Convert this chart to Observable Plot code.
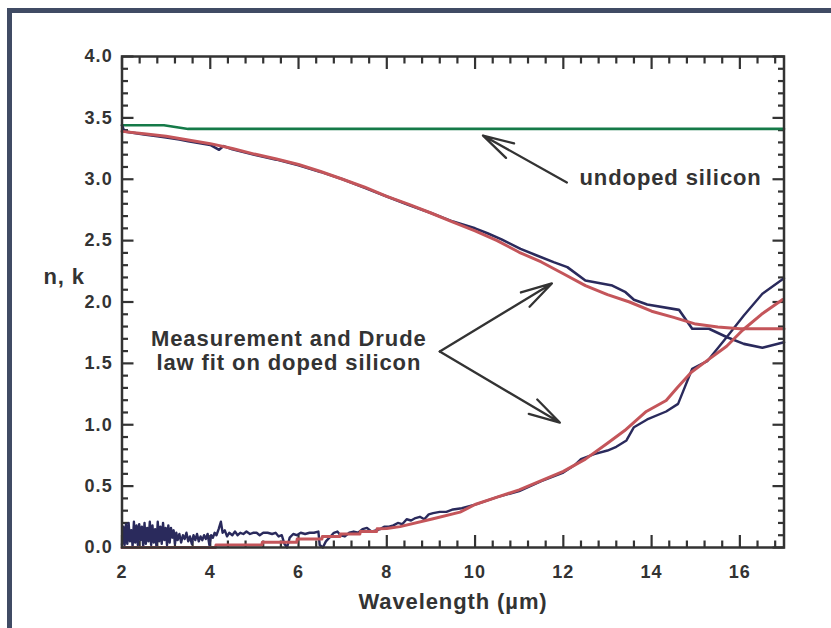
<!DOCTYPE html>
<html><head><meta charset="utf-8">
<script src="https://cdn.jsdelivr.net/npm/d3@7"></script>
<script src="https://cdn.jsdelivr.net/npm/@observablehq/plot@0.6"></script>
<style>
html,body{margin:0;padding:0;background:#fff;}
#wrap{position:relative;width:831px;height:628px;overflow:hidden;}
#border{position:absolute;left:7px;top:8px;right:-10px;bottom:-10px;border-top:5px solid #404b64;border-left:5px solid #404b64;pointer-events:none;}
#chart svg{display:block;}
g[aria-label="x-axis tick label"] text, g[aria-label="y-axis tick label"] text{letter-spacing:1.2px;}
g[aria-label="text"] text{letter-spacing:0.9px;}
</style></head><body>
<div id="wrap"><div id="chart"></div><div id="border"></div></div>
<script>
// ---- data ----
const undopedWl = [2.0, 2.95, 3.5, 17.0];
const undopedN  = [3.44, 3.44, 3.41, 3.41];

const nFitWl  = [2.0, 2.5, 3.0, 3.5, 4.0, 4.5, 5.0, 5.5, 6.0, 6.5, 7.0, 7.5, 8.0, 8.5, 9.0, 9.5, 10.0, 10.5, 11.0, 11.5, 12.0, 12.5, 13.0, 13.5, 14.0, 14.5, 15.0, 15.5, 16.0, 16.5, 17.0];
const nFitVal = [3.39, 3.37, 3.35, 3.32, 3.29, 3.25, 3.205, 3.165, 3.12, 3.063, 3.0, 2.935, 2.86, 2.795, 2.725, 2.65, 2.58, 2.5, 2.405, 2.326, 2.23, 2.134, 2.06, 2.0, 1.925, 1.875, 1.82, 1.797, 1.783, 1.782, 1.782];

const nMeasWl  = [2.0, 2.05, 2.5, 2.8, 3.0, 3.3, 3.5, 4.0, 4.2, 4.3, 4.5, 5.0, 5.5, 6.0, 6.5, 7.0, 7.5, 8.0, 8.5, 9.0, 9.5, 10.0, 10.28, 10.6, 11.03, 11.4, 11.78, 12.09, 12.5, 13.11, 13.41, 13.6, 13.9, 14.62, 14.92, 15.3, 15.71, 16.09, 16.51, 17.0];
const nMeasVal = [3.44, 3.39, 3.365, 3.35, 3.34, 3.325, 3.31, 3.28, 3.24, 3.27, 3.245, 3.2, 3.16, 3.115, 3.06, 3.0, 2.93, 2.86, 2.79, 2.725, 2.655, 2.6, 2.56, 2.51, 2.433, 2.379, 2.325, 2.284, 2.175, 2.134, 2.08, 2.018, 1.98, 1.936, 1.782, 1.782, 1.713, 1.659, 1.627, 1.672];

const kFitWl  = [2.0, 4.12, 4.13, 5.17, 5.18, 5.96, 5.97, 6.53, 6.54, 6.94, 6.95, 7.39, 7.4, 7.77, 7.78, 8.0, 8.3, 9.05, 9.66, 10.0, 10.5, 11.0, 11.5, 12.0, 12.5, 13.0, 13.39, 13.88, 14.33, 14.59, 14.9, 15.24, 15.7, 16.06, 16.49, 16.97];
const kFitVal = [0, 0, 0.02, 0.02, 0.043, 0.043, 0.07, 0.07, 0.09, 0.09, 0.11, 0.11, 0.13, 0.13, 0.152, 0.155, 0.17, 0.234, 0.288, 0.35, 0.41, 0.47, 0.545, 0.62, 0.72, 0.85, 0.953, 1.108, 1.198, 1.306, 1.428, 1.518, 1.64, 1.77, 1.9, 2.02];

const kMeasWl  = [2.00, 2.03, 2.06, 2.09, 2.12, 2.15, 2.18, 2.21, 2.24, 2.27, 2.30, 2.33, 2.36, 2.39, 2.42, 2.45, 2.48, 2.51, 2.54, 2.57, 2.60, 2.63, 2.66, 2.69, 2.72, 2.75, 2.78, 2.81, 2.84, 2.87, 2.90, 2.93, 2.96, 2.99, 3.02, 3.05, 3.08, 3.11, 3.14, 3.17, 3.20, 3.23, 3.26, 3.30, 3.34, 3.38, 3.42, 3.46, 3.50, 3.54, 3.58, 3.62, 3.66, 3.70, 3.74, 3.78, 3.82, 3.86, 3.90, 3.94, 3.98, 4.02, 4.06, 4.10, 4.14, 4.19, 4.24, 4.28, 4.33, 4.38, 4.43, 4.5, 4.56, 4.62, 4.68, 4.75, 4.82, 4.9, 4.97, 5.05, 5.12, 5.2, 5.3, 5.4, 5.48, 5.55, 5.62, 5.68, 5.74, 5.8, 5.88, 5.96, 6.05, 6.15, 6.25, 6.35, 6.45, 6.48, 6.55, 6.62, 6.7, 6.8, 6.88, 6.95, 7.05, 7.15, 7.25, 7.35, 7.45, 7.55, 7.65, 7.75, 7.85, 7.95, 8.05, 8.15, 8.25, 8.35, 8.45, 8.55, 8.65, 8.75, 8.85, 8.95, 9.05, 9.2, 9.35, 9.5, 9.7, 10.0, 10.5, 11.0, 11.5, 12.0, 12.25, 12.4, 12.7, 13.0, 13.2, 13.43, 13.6, 13.9, 14.33, 14.6, 14.92, 15.26, 15.7, 16.09, 16.51, 17.0];
const kMeasVal = [0.02, 0.17, 0.02, 0.19, 0.03, 0.2, 0.05, 0.14, 0.01, 0.21, 0.04, 0.18, 0.02, 0.19, 0.06, 0.17, 0.01, 0.2, 0.03, 0.16, 0.05, 0.21, 0.02, 0.18, 0.04, 0.15, 0.01, 0.21, 0.05, 0.17, 0.03, 0.2, 0.06, 0.16, 0.02, 0.18, 0.04, 0.16, 0.08, 0.14, 0.03, 0.12, 0.06, 0.11, 0.04, 0.1, 0.07, 0.12, 0.05, 0.09, 0.03, 0.1, 0.06, 0.11, 0.05, 0.09, 0.06, 0.1, 0.07, 0.11, 0.02, 0.1, 0.08, 0.12, 0.1, 0.15, 0.21, 0.12, 0.14, 0.09, 0.12, 0.1, 0.13, 0.1, 0.12, 0.11, 0.13, 0.11, 0.12, 0.12, 0.1, 0.12, 0.12, 0.11, 0.12, 0.09, 0.1, 0.03, 0.0, 0.08, 0.11, 0.1, 0.12, 0.11, 0.12, 0.12, 0.13, 0.02, 0.0, 0.05, 0.08, 0.12, 0.13, 0.1, 0.09, 0.12, 0.13, 0.12, 0.15, 0.16, 0.13, 0.14, 0.15, 0.17, 0.17, 0.18, 0.2, 0.19, 0.23, 0.22, 0.24, 0.25, 0.23, 0.27, 0.28, 0.29, 0.29, 0.31, 0.32, 0.35, 0.41, 0.46, 0.54, 0.61, 0.67, 0.72, 0.76, 0.79, 0.82, 0.872, 0.98, 1.043, 1.108, 1.17, 1.456, 1.518, 1.713, 1.89, 2.067, 2.194];

const xMajor = [2, 4, 6, 8, 10, 12, 14, 16];
const yMajor = [0, 0.5, 1.0, 1.5, 2.0, 2.5, 3.0, 3.5, 4.0];
const xMinor = d3.range(2, 17.001, 0.4).map(v => +v.toFixed(1)).filter(v => Math.abs(v / 2 - Math.round(v / 2)) > 1e-6);
const yMinor = d3.range(0, 4.001, 0.1).map(v => +v.toFixed(1)).filter(v => Math.abs(v * 2 - Math.round(v * 2)) > 1e-6);

const toRows = (wl, val) => wl.map((w, i) => ({wl: w, v: val[i]}));

const ink = "#333";
const F = "'Liberation Sans', Arial, Helvetica, sans-serif";

const tickStyle = {tickFormat: () => "", label: null, stroke: ink, strokeWidth: 2.2};

const chart = Plot.plot({
  width: 831, height: 628,
  marginLeft: 121.5, marginRight: 47.5, marginTop: 56, marginBottom: 81,
  x: {domain: [2, 17], label: null},
  y: {domain: [0, 4], label: null},
  style: {fontFamily: F, fontWeight: "bold", background: "transparent", color: ink},
  marks: [
    // minor + major ticks, inward on all four sides
    Plot.axisX(xMinor, {anchor: "bottom", tickSize: -6.5, ...tickStyle}),
    Plot.axisX(xMajor, {anchor: "bottom", tickSize: -12, ...tickStyle}),
    Plot.axisX(xMinor, {anchor: "top", tickSize: -6.5, ...tickStyle}),
    Plot.axisX(xMajor, {anchor: "top", tickSize: -12, ...tickStyle}),
    Plot.axisY(yMinor, {anchor: "left", tickSize: -6.5, ...tickStyle}),
    Plot.axisY(yMajor, {anchor: "left", tickSize: -12, ...tickStyle}),
    Plot.axisY(yMinor, {anchor: "right", tickSize: -6.5, ...tickStyle}),
    Plot.axisY(yMajor, {anchor: "right", tickSize: -12, ...tickStyle}),
    // tick labels
    Plot.axisX(xMajor, {anchor: "bottom", tickSize: 0, tickPadding: 18, label: null, fontSize: 18, fill: ink, tickFormat: d3.format("d")}),
    Plot.axisY(yMajor, {anchor: "left", tickSize: 0, tickPadding: 9, label: null, fontSize: 18, fill: ink, tickFormat: d3.format(".1f")}),
    // data
    Plot.line(toRows(undopedWl, undopedN), {x: "wl", y: "v", stroke: "#157a48", strokeWidth: 2.6}),
    Plot.line(toRows(nMeasWl, nMeasVal), {x: "wl", y: "v", stroke: "#2a2a5c", strokeWidth: 2.6}),
    Plot.line(toRows(kMeasWl, kMeasVal), {x: "wl", y: "v", stroke: "#2a2a5c", strokeWidth: 2.4}),
    Plot.line(toRows(nFitWl, nFitVal), {x: "wl", y: "v", stroke: "#c4555a", strokeWidth: 3}),
    Plot.line(toRows(kFitWl, kFitVal), {x: "wl", y: "v", stroke: "#c4555a", strokeWidth: 3}),
    Plot.frame({stroke: ink, strokeWidth: 2.5}),
    // annotations
    Plot.arrow([{x1: 12.08, y1: 2.974, x2: 10.18, y2: 3.356}], {x1: "x1", y1: "y1", x2: "x2", y2: "y2", stroke: ink, strokeWidth: 2.3, headAngle: 30, headLength: 21}),
    Plot.arrow([{x1: 9.2, y1: 1.597, x2: 11.74, y2: 2.151}, {x1: 9.2, y1: 1.597, x2: 11.92, y2: 1.018}], {x1: "x1", y1: "y1", x2: "x2", y2: "y2", stroke: ink, strokeWidth: 2.3, headAngle: 30, headLength: 21}),
    Plot.text(["undoped silicon"], {x: 12.367, y: 2.957, text: d => d, textAnchor: "start", lineAnchor: "bottom", fontSize: 22, fill: ink}),
    Plot.text(["Measurement and Drude\nlaw fit on doped silicon"], {x: 5.78, y: 1.442, text: d => d, textAnchor: "middle", lineAnchor: "bottom", lineHeight: 1.1, fontSize: 22, fill: ink}),
    Plot.text(["Wavelength (µm)"], {frameAnchor: "bottom", dy: 61, text: d => d, textAnchor: "middle", lineAnchor: "bottom", fontSize: 22, fill: ink}),
    Plot.text(["n, k"], {frameAnchor: "left", dx: -78.5, dy: -18.5, text: d => d, textAnchor: "start", lineAnchor: "bottom", fontSize: 22, fill: ink})
  ]
});
document.getElementById("chart").appendChild(chart);
</script></body></html>
